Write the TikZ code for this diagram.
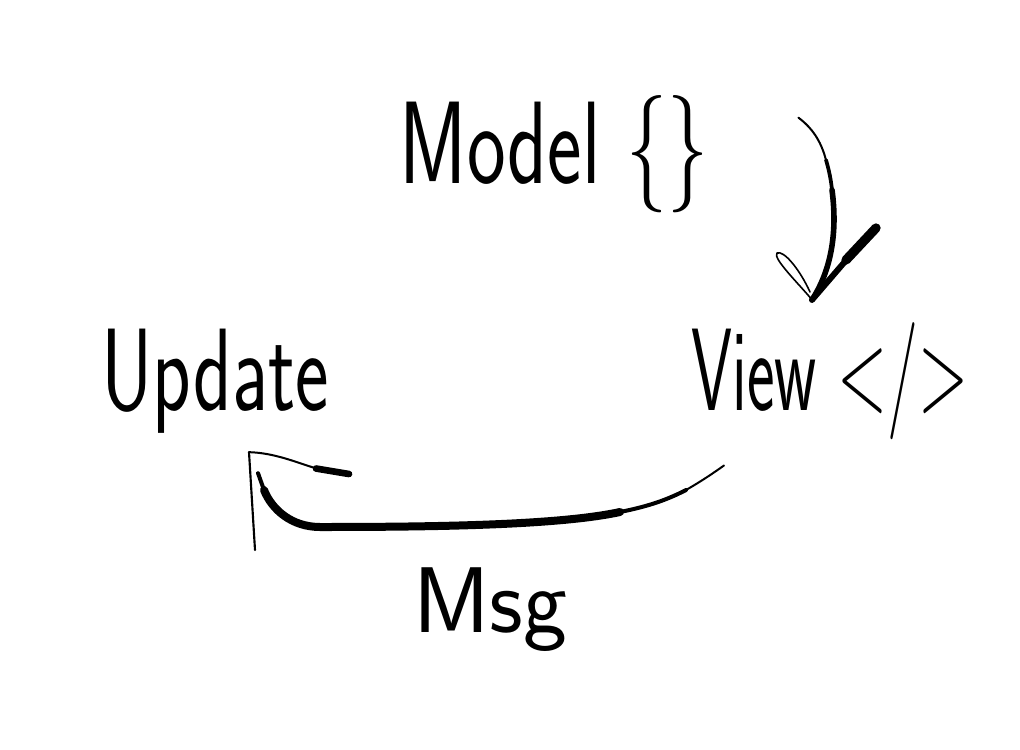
\documentclass[tikz,border=0pt]{standalone}
\usetikzlibrary{calc}
\usepackage{graphicx}
\begin{document}
\begin{tikzpicture}[x=0.75pt,y=-0.75pt]
\tikzset{
  hand/.style={font=\sffamily\fontsize{88}{100}\selectfont, inner sep=0pt, anchor=base},
  ink/.style={black, line cap=round, line join=round},
}
\useasboundingbox[fill=white] (0,0) rectangle (1020,749);
% nodes
\node[hand] (model) at (554,183) {\scalebox{0.7}[1]{Model \{\}}};
\node[hand] (view) at (830,410) {\scalebox{0.56}[1]{View </>}};
\node[hand] (update) at (215,410) {\scalebox{0.68}[1]{Update}};
\node[hand, font=\sffamily\fontsize{70}{80}\selectfont] (msg) at (490,632) {Msg};
% Model -> View
\coordinate (mvtip) at ($(view.north)+(-18,-22)$);
\coordinate (mvmid) at (832,190);
\draw[ink, line width=1.5pt] ($(model.east)+(90,-36)$) .. controls (815,130) and (822,145) .. (826,160);
\draw[ink, line width=2.8pt] (826,160) .. controls (829,170) and (831,180) .. (mvmid);
\draw[ink, line width=4.2pt] (mvmid) .. controls (838,235) and (830,272) .. (mvtip);
\draw[ink, line width=4.5pt] (mvtip) -- (848,258);
\draw[ink, line width=7pt] (846,260) -- (876,228);
\draw[ink, line width=1.2pt] (mvtip) .. controls (800,285) and (772,258) .. (777,253)
   .. controls (784,250) and (800,270) .. (810,292);
% View -> Update (Msg)
\coordinate (uptip) at ($(update.south)+(34,19)$);
\draw[ink, line width=1.5pt] ($(view.south)+(-106,26)$) .. controls (712,474) and (700,482) .. (686,490);
\draw[ink, line width=3pt] (686,490) .. controls (665,501) and (645,507) .. (620,512);
\draw[ink, line width=6pt] (620,512) .. controls (560,525) and (440,527) .. (320,527)
   .. controls (292,527) and (272,510) .. (264,490);
\draw[ink, line width=3pt] (264,490) -- ($(update.south)+(43,40)$);
\draw[ink, line width=1.6pt] (uptip) -- (255,550);
\draw[ink, line width=1.5pt] (uptip) .. controls (275,453) and (295,462) .. (318,469);
\draw[ink, line width=5pt] (316,468.5) -- (349,474);
\end{tikzpicture}
\end{document}
